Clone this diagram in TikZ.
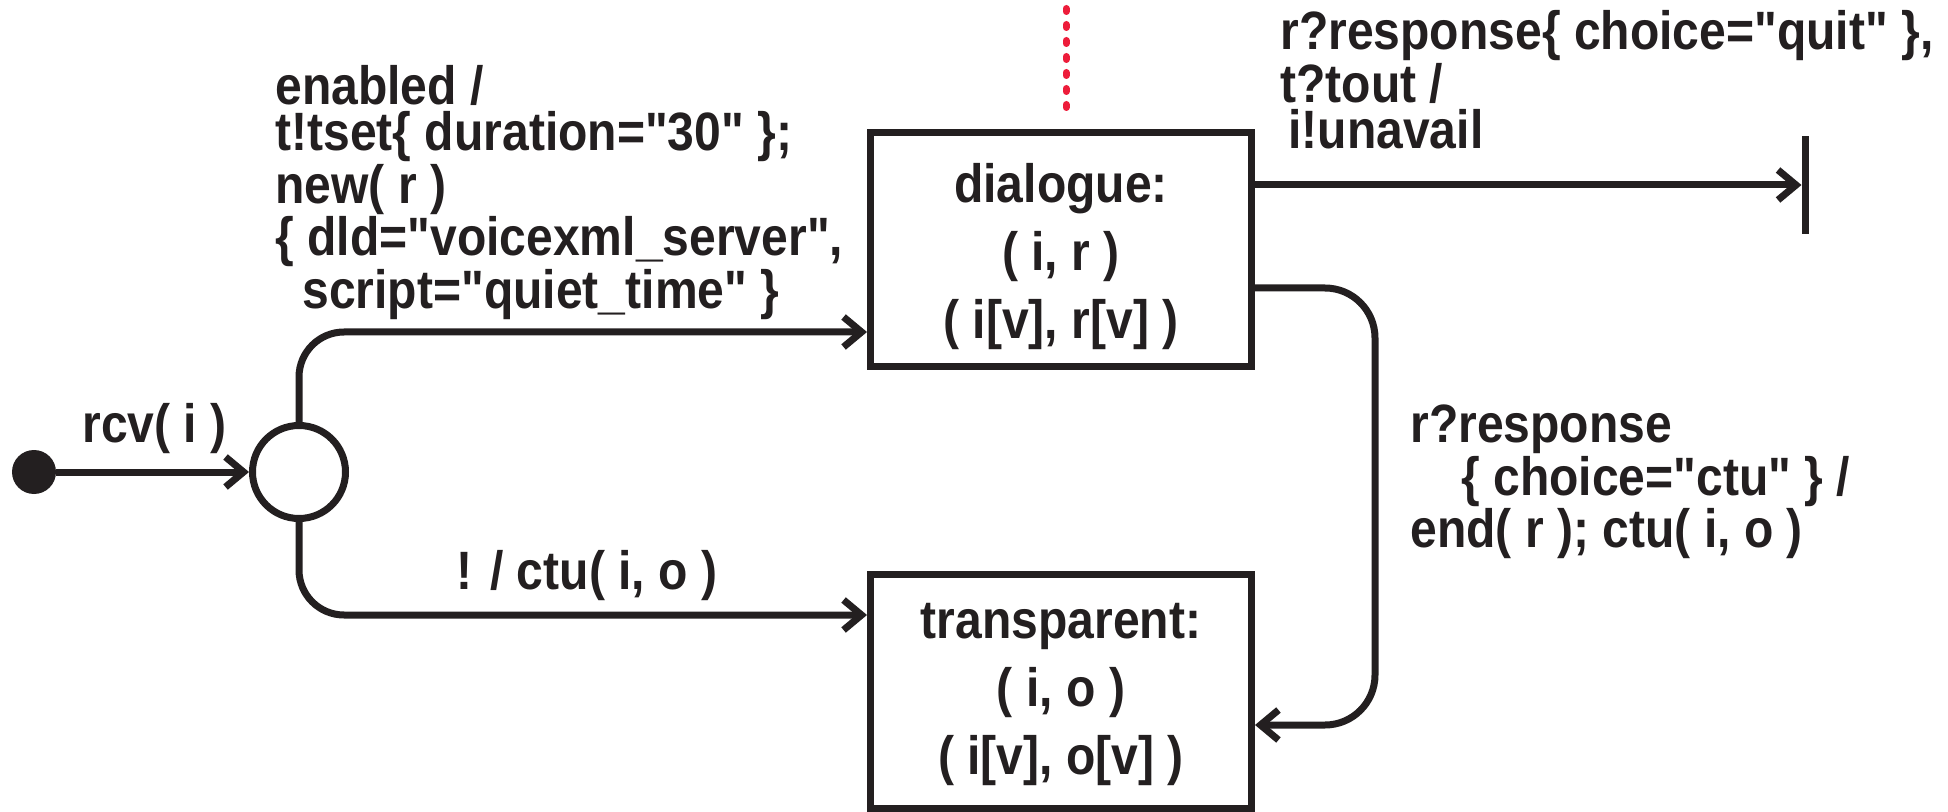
\documentclass[tikz,border=0pt]{standalone}
\usepackage{fontspec}
\setmainfont{Liberation Sans}[FakeStretch=0.89,Ligatures=TeXOff]
\usetikzlibrary{arrows.meta}
\definecolor{ink}{HTML}{231F20}
\definecolor{signal}{HTML}{ED1C3A}
% stacked lines: left aligned / centred, first baseline is the box baseline
\newcommand{\lstack}[1]{\vtop{\halign{##\hfil\cr#1\crcr}}}
\newcommand{\cstack}[1]{\vtop{\halign{\hfil##\hfil\cr#1\crcr}}}
\begin{document}
\begin{tikzpicture}[x=0.5pt,y=-0.5pt,ink,
  statebox/.style={draw,line width=3.5pt,minimum width=190.5pt,minimum height=117pt,
    inner sep=0pt,font=\fontsize{27pt}{34pt}\selectfont\bfseries},
  pseudo/.style={circle,draw,line width=3.5pt,fill=white,minimum size=46.5pt,inner sep=0pt},
  initdot/.style={circle,fill,minimum size=22pt,inner sep=0pt,outer sep=0pt},
  finalbar/.style={rectangle,fill,minimum width=3.5pt,minimum height=49pt,inner sep=0pt,outer sep=0pt},
  trans/.style={line width=3.5pt,-{Straight Barb[length=9pt,width=15pt]}},
  lbl/.style={font=\fontsize{27pt}{23pt}\selectfont\bfseries,inner sep=0pt,anchor=base west},
  contline/.style={signal,line width=3.5pt,line cap=round,dash pattern=on 1.5pt off 6.5pt}]
\useasboundingbox (0,0) rectangle (1948,812);

% states
\node[initdot] (init) at (34,472) {};
\node[pseudo] (junc) at (299,472) {};
\node[statebox] (dialogue) at (1061,249.5)
  {\smash{\raisebox{23.25pt}{\cstack{dialogue:\cr ( i, r )\cr ( i[v], r[v] )}}}};
\node[statebox] (transparent) at (1061,691)
  {\smash{\raisebox{26.5pt}{\cstack{transparent:\cr ( i, o )\cr ( i[v], o[v] )}}}};
\node[finalbar] (final) at (1805,185) {};

% continuation above the dialogue state
\coordinate (contTop) at (1066,8.5);
\coordinate (contEnd) at (1066,107.5);
\draw[contline] (contTop) -- (contEnd);

% transitions
\draw[trans] (init) -- (junc);
\draw[trans,rounded corners=22.5pt] (junc.north) |- ([yshift=-41.25pt]dialogue.west);
\draw[trans,rounded corners=22.5pt] (junc.south) |- ([yshift=38pt]transparent.west);
\draw[trans] ([yshift=32.25pt]dialogue.east) -- (final);
\draw[trans,rounded corners=25pt] ([yshift=-19.25pt]dialogue.east) -- ++(60pt,0)
  |- ([yshift=-17pt]transparent.east);

% transition labels
\node[lbl] (lrcv) at (82,443) {rcv( i )};
\node[lbl] (lenable) at (275,105) {\lstack{enabled /\cr
  t!tset\{ duration="30" \};\cr
  new( r )\cr
  \{ dld="voicexml\_server",\cr
  \hskip13.5pt script="quiet\_time" \}}};
\node[lbl] (lctu) at (456,589) {! / ctu( i, o )};
\node[lbl] (lquit) at (1280,50) {\lstack{r?response\{ choice="quit" \},\cr
  t?tout /\cr
  \hskip4pt i!unavail}};
\node[lbl] (lresp) at (1410,443) {\lstack{r?response\cr
  \hskip25.5pt \{ choice="ctu" \} /\cr
  end( r ); ctu( i, o )}};
\end{tikzpicture}
\end{document}
